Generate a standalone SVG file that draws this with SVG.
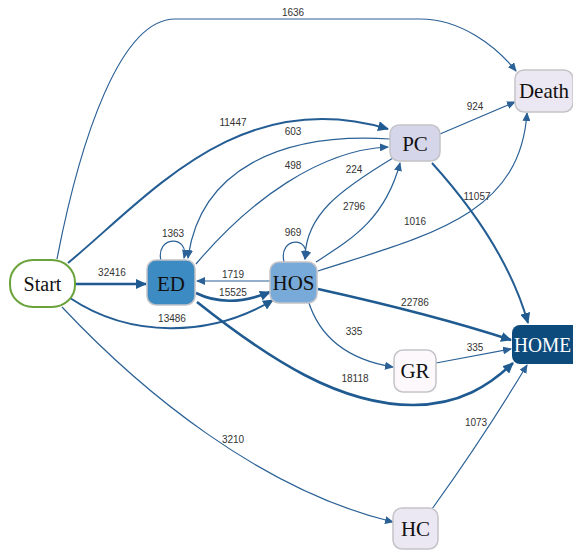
<svg xmlns="http://www.w3.org/2000/svg" width="573" height="550" viewBox="0 0 573 550">
  <style>
    .node { stroke: #c4c4c8; stroke-width: 1.5; }
    .ntext { font-family: "Liberation Serif", "Times New Roman", serif; font-size: 21px; fill: #111; text-anchor: middle; }
    .edge { fill: none; stroke: #2b6196; stroke-width: 1.2; marker-end: url(#arrow); }
    .edge.thick { stroke: #1f5a91; stroke-width: 2.6; marker-end: url(#arrowBig); }
    .edge.mid { stroke: #235d93; stroke-width: 2; marker-end: url(#arrowBig); }
    .elabel { font-family: "Liberation Sans", Arial, sans-serif; font-size: 10px; fill: #333; text-anchor: middle; }
  </style>
  <defs>
    <marker id="arrow" markerUnits="userSpaceOnUse" markerWidth="9" markerHeight="8" refX="8" refY="4" orient="auto">
      <path d="M0,0 L9,4 L0,8 Z" fill="#2b6196"/>
    </marker>
    <marker id="arrowBig" markerUnits="userSpaceOnUse" markerWidth="11" markerHeight="10" refX="10" refY="5" orient="auto">
      <path d="M0,0 L11,5 L0,10 Z" fill="#1f5a91"/>
    </marker>
  </defs>
  <rect width="573" height="550" fill="#ffffff"/>

  <g id="connectors">
    <path class="edge" d="M57,259 C80,140 120,19 175,19 L420,19 C460,19 495,45 516,71"/>
    <path class="edge mid" d="M68,263 C150,195 240,85 388,129"/>
    <path class="edge" d="M390,139 C280,132 200,170 188,258"/>
    <path class="edge" d="M196,264 C250,200 320,150 388,147"/>
    <path class="edge" d="M161,261 C155,235 190,235 184,258"/>
    <path class="edge" d="M284,262 C278,236 312,236 305,259"/>
    <path class="edge" d="M393,158 C340,190 305,215 305,259"/>
    <path class="edge" d="M316,262 C350,240 385,220 400,163"/>
    <path class="edge" d="M318,271 C430,235 520,215 527,113"/>
    <path class="edge mid" d="M432,163 C470,205 510,260 528,323"/>
    <path class="edge" d="M440,134 L515,102"/>
    <path class="edge thick" d="M75,284 L146,284"/>
    <path class="edge" d="M270,281 L197,281"/>
    <path class="edge thick" d="M196,293 C220,305 245,302 270,292"/>
    <path class="edge mid" d="M70,298 C130,338 210,338 273,300"/>
    <path class="edge thick" d="M197,302 C270,360 340,405 413,405 C460,405 490,385 513,363"/>
    <path class="edge thick" d="M318,289 C390,305 450,320 511,340"/>
    <path class="edge" d="M308,300 C320,340 350,360 393,367"/>
    <path class="edge" d="M436,363 L511,349"/>
    <path class="edge" d="M62,307 C140,390 260,490 393,522"/>
    <path class="edge" d="M432,509 C460,470 500,410 527,365"/>

    <text class="elabel" x="293" y="16">1636</text>
    <text class="elabel" x="233" y="126">11447</text>
    <text class="elabel" x="293" y="135">603</text>
    <text class="elabel" x="293" y="169">498</text>
    <text class="elabel" x="354" y="173">224</text>
    <text class="elabel" x="354" y="210">2796</text>
    <text class="elabel" x="173" y="237">1363</text>
    <text class="elabel" x="293" y="236">969</text>
    <text class="elabel" x="415" y="225">1016</text>
    <text class="elabel" x="477" y="200">11057</text>
    <text class="elabel" x="475" y="110">924</text>
    <text class="elabel" x="112" y="276">32416</text>
    <text class="elabel" x="233" y="278">1719</text>
    <text class="elabel" x="233" y="296">15525</text>
    <text class="elabel" x="172" y="322">13486</text>
    <text class="elabel" x="415" y="306">22786</text>
    <text class="elabel" x="354" y="335">335</text>
    <text class="elabel" x="475" y="351">335</text>
    <text class="elabel" x="355" y="382">18118</text>
    <text class="elabel" x="233" y="443">3210</text>
    <text class="elabel" x="476" y="426">1073</text>
  </g>

  <g id="node-start">
    <rect x="10" y="260" width="65" height="47" rx="23" ry="22" fill="#ffffff" stroke="#6aa33a" stroke-width="2"/>
    <text class="ntext" x="42.5" y="291" style="font-size:20px">Start</text>
  </g>
  <g id="node-ed">
    <rect class="node" x="147" y="260" width="48" height="45" rx="9" fill="#3d8bc3"/>
    <text class="ntext" x="171" y="291">ED</text>
  </g>
  <g id="node-hos">
    <rect class="node" x="270" y="262" width="47" height="41" rx="9" fill="#77aad8"/>
    <text class="ntext" x="293.5" y="290">HOS</text>
  </g>
  <g id="node-pc">
    <rect class="node" x="390" y="125" width="50" height="36" rx="9" fill="#d5d6ea"/>
    <text class="ntext" x="415" y="151">PC</text>
  </g>
  <g id="node-death">
    <rect class="node" x="515" y="70" width="58" height="42" rx="9" fill="#ece8f3"/>
    <text class="ntext" x="544" y="98">Death</text>
  </g>
  <g id="node-home">
    <rect x="512" y="325" width="72" height="39" rx="8" fill="#0e4b7d"/>
    <text class="ntext" x="514" y="352" textLength="57" lengthAdjust="spacingAndGlyphs" style="fill:#ffffff;text-anchor:start;font-size:20px">HOME</text>
  </g>
  <g id="node-gr">
    <rect class="node" x="394" y="350" width="42" height="42" rx="9" fill="#fcf8fb"/>
    <text class="ntext" x="415" y="378">GR</text>
  </g>
  <g id="node-hc">
    <rect class="node" x="393" y="508" width="45" height="41" rx="9" fill="#ece8f3"/>
    <text class="ntext" x="415.5" y="536">HC</text>
  </g>
</svg>
